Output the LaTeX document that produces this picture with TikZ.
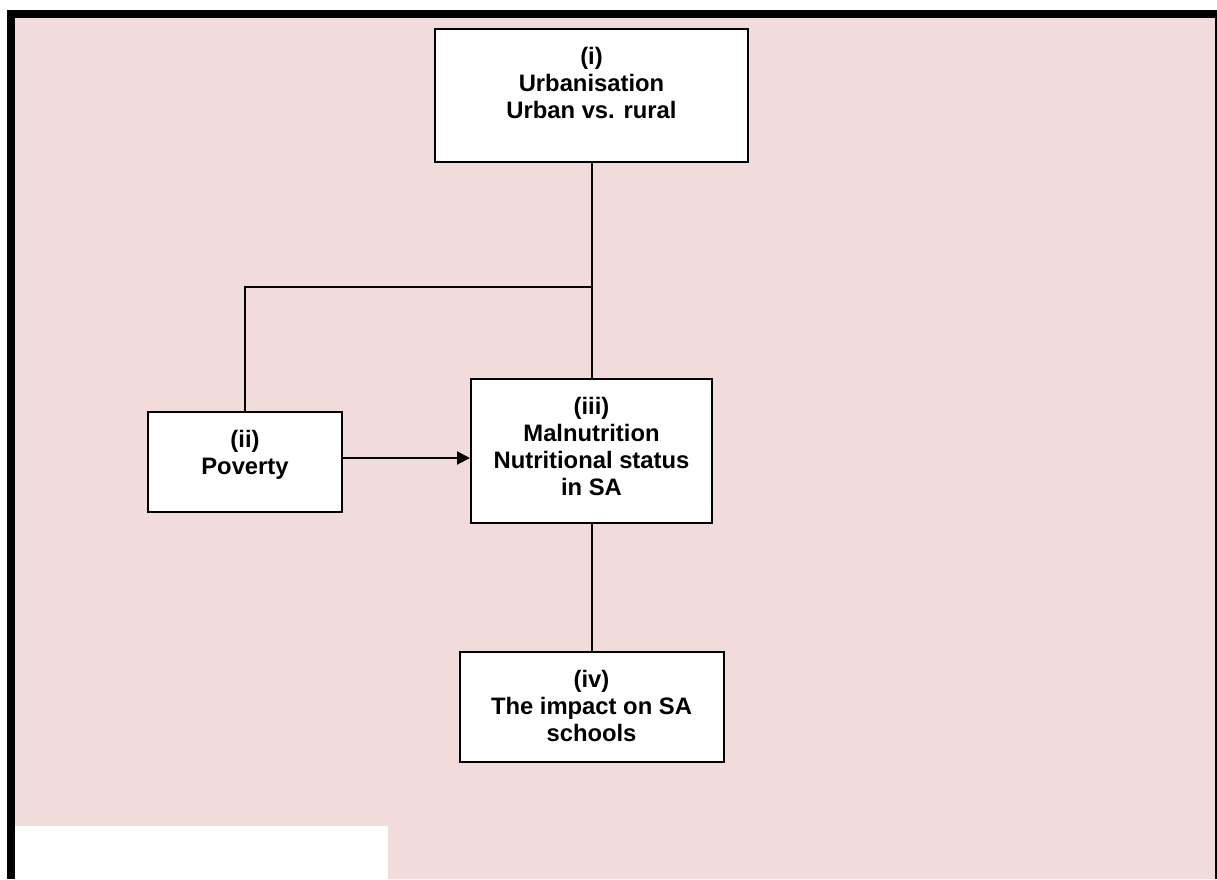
\documentclass[tikz,border=0pt]{standalone}
\usepackage{fontspec}
\setmainfont{Liberation Sans}
\usetikzlibrary{arrows.meta}
\definecolor{bgpink}{RGB}{242,220,219}
\tikzset{
  stagebox/.style={draw=black, line width=2pt, fill=white, inner sep=0pt, rectangle},
  stagetext/.style={anchor=north, inner sep=0pt, align=center, text=black,
    font=\fontsize{23.8}{27}\selectfont\bfseries},
  link/.style={draw=black, line width=2pt},
  arrowlink/.style={link, -{Triangle[length=13pt,width=13pt]}}
}
\begin{document}
\begin{tikzpicture}[x=1pt,y=-1pt]
\useasboundingbox (0,0) rectangle (1217,879);
% background frame
\fill[white] (0,0) rectangle (1217,879);
\fill[bgpink] (15,18) rectangle (1215,879);
\fill[black] (7,10) rectangle (1217,18);
\fill[black] (7,10) rectangle (15,879);
\fill[black] (1215,18) rectangle (1216.5,879);
\fill[white] (15,826) rectangle (388,879);
% boxes
\node[stagebox, minimum width=313pt, minimum height=133pt] (i) at (591.5,95.5) {};
\node[stagebox, minimum width=194pt, minimum height=100pt] (ii) at (245,462) {};
\node[stagebox, minimum width=241pt, minimum height=144pt] (iii) at (591.5,451) {};
\node[stagebox, minimum width=264pt, minimum height=110pt] (iv) at (591.5,707) {};
% texts
\node[stagetext] (ti) at ([yshift=-19pt]i.north) {(i)\\Urbanisation\\Urban vs. rural};
\node[stagetext] (tii) at ([yshift=-19pt]ii.north) {(ii)\\Poverty};
\node[stagetext] (tiii) at ([yshift=-19pt]iii.north) {(iii)\\Malnutrition\\Nutritional status\\in SA};
\node[stagetext] (tiv) at ([yshift=-19pt]iv.north) {(iv)\\The impact on SA\\schools};
% connectors
\coordinate (junction) at (591.5,287);
\draw[link] (i.south) -- (iii.north);
\draw[link] (ii.north) |- (junction);
\draw[arrowlink] ([yshift=4pt]ii.east) -- ([yshift=4pt]ii.east -| iii.west);
\draw[link] (iii.south) -- (iv.north);
\end{tikzpicture}
\end{document}
